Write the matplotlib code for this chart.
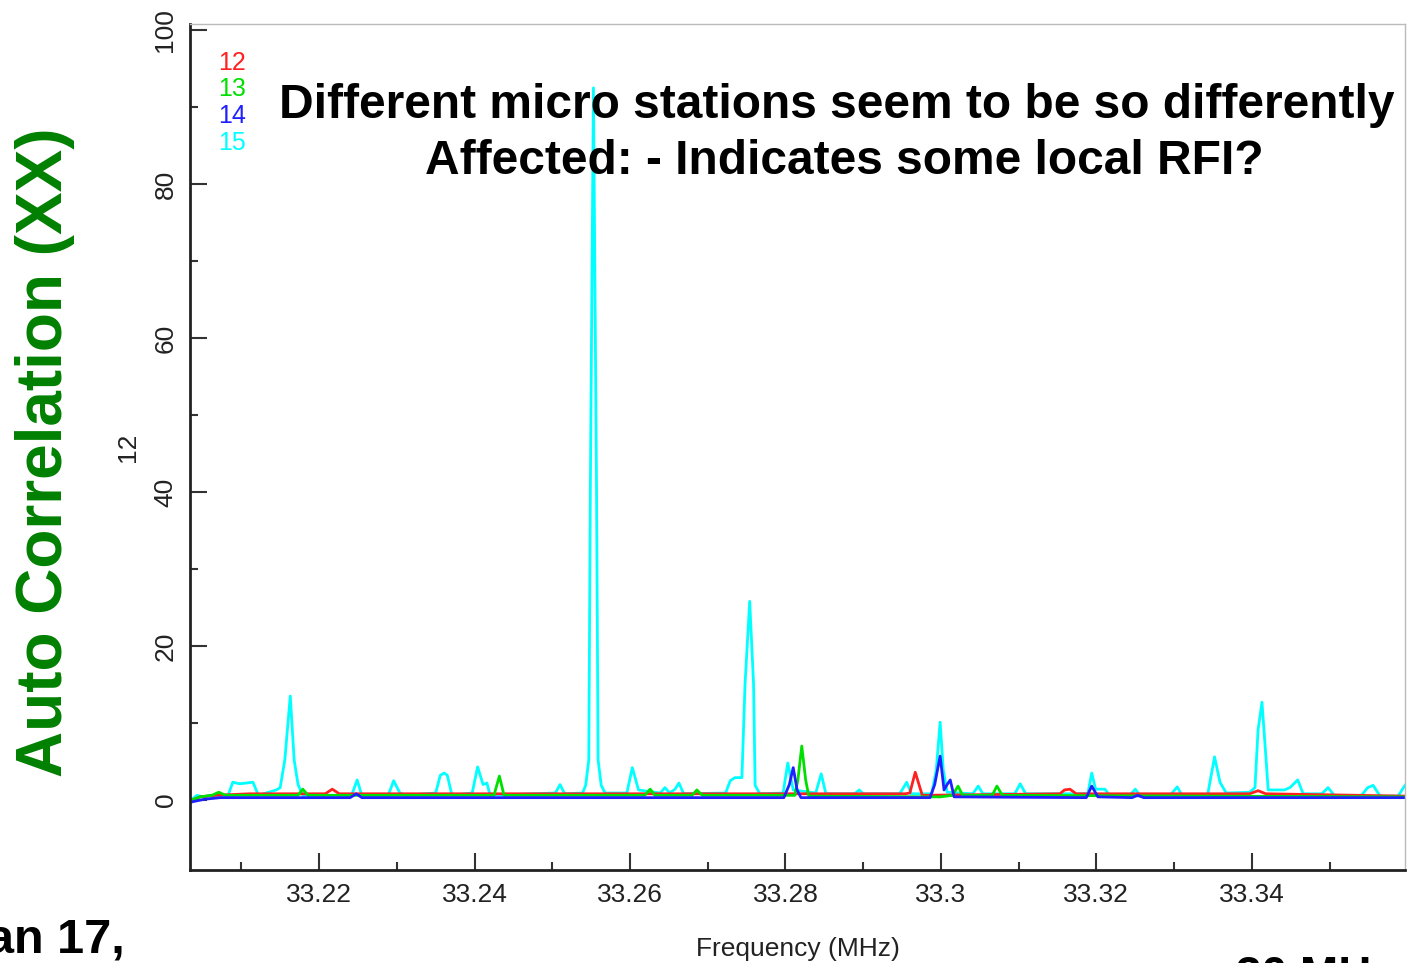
import numpy as np
import matplotlib
matplotlib.use('Agg')
import matplotlib.pyplot as plt
from matplotlib.ticker import MultipleLocator

# station 15 (cyan)
freq_15 = [33.2034, 33.2043, 33.2051, 33.2060, 33.2083, 33.2089, 33.2098, 33.2115, 33.2122, 33.2145,
           33.2150, 33.2156, 33.2163, 33.2168, 33.2173, 33.2179, 33.2242, 33.2249, 33.2255, 33.2289,
           33.2296, 33.2304, 33.2311, 33.2350, 33.2356, 33.2361, 33.2365, 33.2371, 33.2397, 33.2404,
           33.2411, 33.2416, 33.2420, 33.2504, 33.2510, 33.2516, 33.2539, 33.2543, 33.2547, 33.2549,
           33.2553, 33.2557, 33.2559, 33.2563, 33.2568, 33.2596, 33.2603, 33.2611, 33.2639, 33.2645,
           33.2651, 33.2658, 33.2663, 33.2669, 33.2723, 33.2729, 33.2735, 33.2744, 33.2748, 33.2754,
           33.2759, 33.2761, 33.2767, 33.2797, 33.2803, 33.2810, 33.2839, 33.2846, 33.2852, 33.2889,
           33.2895, 33.2900, 33.2947, 33.2956, 33.2962, 33.2988, 33.2994, 33.2999, 33.3003, 33.3008,
           33.3041, 33.3048, 33.3054, 33.3095, 33.3102, 33.3109, 33.3189, 33.3194, 33.3199, 33.3211,
           33.3217, 33.3243, 33.3250, 33.3256, 33.3295, 33.3304, 33.3310, 33.3343, 33.3352, 33.3359,
           33.3367, 33.3397, 33.3404, 33.3408, 33.3413, 33.3417, 33.3421, 33.3442, 33.3449, 33.3459,
           33.3466, 33.3490, 33.3498, 33.3506, 33.3541, 33.3549, 33.3556, 33.3565, 33.3588, 33.3597]
val_15 = [-0.1, 0.6, 0.4, 0.6, 0.6, 2.3, 2.1, 2.3, 0.6, 1.3,
          1.6, 5.2, 13.5, 5.2, 2.0, 0.6, 0.6, 2.6, 0.6, 0.6,
          2.5, 0.9, 0.6, 0.9, 3.2, 3.5, 3.2, 0.6, 0.9, 4.3,
          2.0, 2.2, 0.6, 0.9, 2.0, 0.8, 0.9, 1.9, 5.2, 40.0,
          92.5, 40.0, 5.2, 1.9, 0.9, 0.9, 4.2, 1.3, 0.9, 1.6,
          0.9, 1.4, 2.2, 0.8, 0.9, 2.5, 2.9, 2.9, 15.0, 25.8,
          15.0, 1.9, 0.8, 0.9, 4.8, 1.3, 0.9, 3.4, 0.8, 0.8,
          1.3, 0.8, 0.8, 2.3, 0.8, 0.8, 3.9, 10.1, 3.9, 1.0,
          0.8, 1.8, 0.8, 0.8, 2.1, 0.8, 0.8, 3.5, 1.4, 1.4,
          0.6, 0.6, 1.4, 0.6, 0.6, 1.7, 0.6, 0.6, 5.6, 2.3,
          0.9, 1.0, 1.6, 9.1, 12.7, 7.1, 1.3, 1.3, 1.6, 2.6,
          0.8, 0.8, 1.6, 0.6, 0.6, 1.6, 1.9, 0.5, 0.5, 1.9]

# station 12 (red)
freq_12 = [33.2034, 33.2047, 33.2066, 33.2111, 33.2208, 33.2217, 33.2226, 33.2954, 33.2960, 33.2967,
           33.2976, 33.3153, 33.3159, 33.3166, 33.3174, 33.3397, 33.3408, 33.3418, 33.3597]
val_12 = [-0.1, 0.4, 0.6, 0.8, 0.8, 1.4, 0.8, 0.8, 0.9, 3.6,
          0.6, 0.8, 1.3, 1.4, 0.8, 0.8, 1.2, 0.8, 0.5]

# station 13 (green)
freq_13 = [33.2034, 33.2047, 33.2062, 33.2071, 33.2080, 33.2173, 33.2179, 33.2186, 33.2425, 33.2432,
           33.2438, 33.2619, 33.2626, 33.2632, 33.2680, 33.2686, 33.2693, 33.2812, 33.2816, 33.2821,
           33.2826, 33.2830, 33.2986, 33.2999, 33.3015, 33.3022, 33.3028, 33.3066, 33.3072, 33.3079,
           33.3597]
val_13 = [-0.1, 0.4, 0.6, 1.0, 0.6, 0.6, 1.4, 0.6, 0.6, 3.1,
          0.6, 0.6, 1.4, 0.6, 0.6, 1.3, 0.6, 0.6, 2.6, 7.0,
          2.6, 0.5, 0.4, 0.4, 0.6, 1.8, 0.6, 0.6, 1.8, 0.6,
          0.4]

# station 14 (blue)
freq_14 = [33.2034, 33.2053, 33.2073, 33.2240, 33.2248, 33.2255, 33.2798, 33.2805, 33.2810, 33.2815,
           33.2820, 33.2986, 33.2992, 33.2999, 33.3004, 33.3008, 33.3012, 33.3017, 33.3187, 33.3194,
           33.3202, 33.3246, 33.3253, 33.3261, 33.3597]
val_14 = [-0.3, 0.1, 0.3, 0.3, 0.8, 0.3, 0.3, 2.0, 4.2, 1.3,
          0.3, 0.3, 2.0, 5.7, 1.3, 2.0, 2.6, 0.4, 0.3, 1.8,
          0.4, 0.3, 0.6, 0.3, 0.3]

x_ticks = [33.22, 33.24, 33.26, 33.28, 33.30, 33.32, 33.34]
x_labels = ['33.22', '33.24', '33.26', '33.28', '33.3', '33.32', '33.34']
stations = ['12', '13', '14', '15']
colores = ['#ff2020', '#00e000', '#2020ff', '#00ffff']

fuente = 'Liberation Sans'

fig = plt.figure(figsize=(14.07, 9.63), dpi=100)
ax = fig.add_axes([190/1407, 93/963, 1215/1407, 846/963])

ax.plot(freq_15, val_15, color=colores[3], lw=2)
ax.plot(freq_12, val_12, color=colores[0], lw=2)
ax.plot(freq_13, val_13, color=colores[1], lw=2)
ax.plot(freq_14, val_14, color=colores[2], lw=2)

ax.set_xlim(33.2034, 33.3597)
ax.set_ylim(-9.1, 100.8)

ax.set_xticks(x_ticks)
ax.set_xticklabels(x_labels, family=fuente)
ax.xaxis.set_minor_locator(MultipleLocator(0.01))
ax.set_yticks([0, 20, 40, 60, 80, 100])
ax.set_yticklabels(['0', '20', '40', '60', '80', '100'], family=fuente, rotation=90, va='center')
ax.yaxis.set_minor_locator(MultipleLocator(10))

ax.tick_params(which='major', direction='in', length=12, width=1.5, color='#333333',
               labelsize=19, labelcolor='#222222', pad=9)
ax.tick_params(which='minor', direction='in', length=6, width=1.5, color='#333333')

for s in ['left', 'bottom']:
    ax.spines[s].set_linewidth(2)
    ax.spines[s].set_color('#222222')
for s in ['top', 'right']:
    ax.spines[s].set_linewidth(1)
    ax.spines[s].set_color('#bbbbbb')

ax.set_xlabel('Frequency (MHz)', fontsize=19, family=fuente, color='#222222', labelpad=22)
ax.set_ylabel('12', fontsize=19, family=fuente, color='#222222', labelpad=10)

# leyenda de estaciones
for i, (st, c) in enumerate(zip(stations, colores)):
    fig.text(218/1407, 1 - (63 + i*26.5)/963, st, color=c, fontsize=18, family=fuente,
             va='center', ha='left')

# anotaciones
fig.text(837/1407, 1 - 105/963, 'Different micro stations seem to be so differently',
         fontsize=34.5, fontweight='bold', family=fuente, ha='center', va='center')
fig.text(844/1407, 1 - 162/963, 'Affected: - Indicates some local RFI?',
         fontsize=34.5, fontweight='bold', family=fuente, ha='center', va='center')
fig.text(45/1407, 1 - 452/963, 'Auto Correlation (XX)', rotation=90, color='#008000',
         fontsize=46, fontweight='bold', family=fuente, ha='center', va='center')
fig.text(125/1407, 1 - 940/963, 'Jan 17,', fontsize=35, fontweight='bold',
         family=fuente, ha='right', va='center')
fig.text(1236/1407, 1 - 955/963, '30 MHz', fontsize=33, fontweight='bold',
         family=fuente, ha='left', va='top')

plt.savefig('out.png', dpi=100)
